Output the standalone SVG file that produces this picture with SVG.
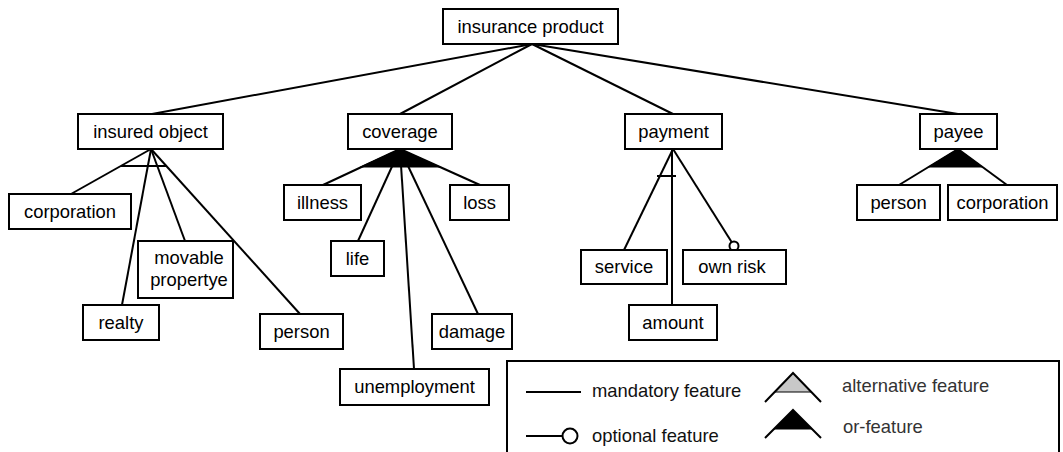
<svg xmlns="http://www.w3.org/2000/svg" width="1063" height="452" viewBox="0 0 1063 452">
  <style>
    .box { fill: #fff; stroke: #000; stroke-width: 2; }
    .lbl { font-family: "Liberation Sans", Arial, sans-serif; font-size: 18.4px; fill: #000; text-anchor: middle; }
    .lgd { font-family: "Liberation Sans", Arial, sans-serif; font-size: 18.4px; fill: #111; }
    .lgd2 { font-family: "Liberation Sans", Arial, sans-serif; font-size: 18.4px; fill: #333; }
    .edge { stroke: #000; stroke-width: 2; fill: none; }
    .or { fill: #000; stroke: #000; stroke-width: 1; }
    .alt { fill: #c8c8c8; stroke: #000; stroke-width: 1; }
  </style>
  <rect width="1063" height="452" fill="#fff"/>

  <!-- connectors -->
  <g id="connectors">
    <!-- root to first level -->
    <line class="edge" x1="532" y1="44" x2="152" y2="114"/>
    <line class="edge" x1="532" y1="44" x2="400" y2="114"/>
    <line class="edge" x1="532" y1="44" x2="673" y2="114"/>
    <line class="edge" x1="532" y1="44" x2="958" y2="114"/>
    <!-- insured object -->
    <line class="edge" x1="151" y1="149" x2="71" y2="194"/>
    <line class="edge" x1="151" y1="149" x2="122" y2="305"/>
    <line class="edge" x1="151" y1="149" x2="185" y2="241"/>
    <line class="edge" x1="151" y1="149" x2="300" y2="314"/>
    <line class="edge" x1="121" y1="166" x2="167" y2="166"/>
    <!-- coverage (or-group) -->
    <polygon class="or" points="400,149 360.5,167 440,167"/>
    <line class="edge" x1="400" y1="149" x2="323" y2="185"/>
    <line class="edge" x1="400" y1="149" x2="480" y2="185"/>
    <line class="edge" x1="400" y1="149" x2="358" y2="241"/>
    <line class="edge" x1="400" y1="149" x2="414" y2="369"/>
    <line class="edge" x1="400" y1="149" x2="478" y2="314"/>
    <!-- payment -->
    <line class="edge" x1="673" y1="149" x2="624" y2="250"/>
    <line class="edge" x1="672" y1="149" x2="672" y2="305"/>
    <line class="edge" x1="673" y1="149" x2="731.6" y2="242"/>
    <circle cx="734" cy="246" r="4.5" fill="#fff" stroke="#000" stroke-width="2"/>
    <line class="edge" x1="657" y1="176" x2="676" y2="176"/>
    <!-- payee (or-group) -->
    <polygon class="or" points="958,149 928.5,167 982.5,167"/>
    <line class="edge" x1="958" y1="149" x2="899" y2="185"/>
    <line class="edge" x1="958" y1="149" x2="1007" y2="185"/>
  </g>

  <g id="insurance-product"><rect class="box" x="443" y="9" width="175" height="35"/><text class="lbl" x="530.5" y="32.5">insurance product</text></g>

  <g id="insured-object"><rect class="box" x="78" y="114" width="145" height="35"/><text class="lbl" x="150.5" y="137.5">insured object</text></g>
  <g id="coverage"><rect class="box" x="348" y="114" width="104" height="35"/><text class="lbl" x="400" y="137.5">coverage</text></g>
  <g id="payment"><rect class="box" x="625" y="114" width="97" height="35"/><text class="lbl" x="673.5" y="137.5">payment</text></g>
  <g id="payee"><rect class="box" x="920" y="114" width="77" height="35"/><text class="lbl" x="958.5" y="137.5">payee</text></g>

  <g id="corporation-1"><rect class="box" x="9" y="194" width="122" height="35"/><text class="lbl" x="70" y="217.5">corporation</text></g>
  <g id="realty"><rect class="box" x="83" y="305" width="76" height="35"/><text class="lbl" x="121" y="328.5">realty</text></g>
  <g id="movable-propertye"><rect class="box" x="138" y="241" width="95" height="57"/><text class="lbl" x="189" y="264">movable</text><text class="lbl" x="189" y="286">propertye</text></g>
  <g id="person-1"><rect class="box" x="260" y="314" width="83" height="35"/><text class="lbl" x="301.5" y="337.5">person</text></g>

  <g id="illness"><rect class="box" x="284" y="185" width="77" height="35"/><text class="lbl" x="322.5" y="208.5">illness</text></g>
  <g id="life"><rect class="box" x="331" y="241" width="53" height="35"/><text class="lbl" x="357.5" y="264.5">life</text></g>
  <g id="loss"><rect class="box" x="450" y="185" width="59" height="35"/><text class="lbl" x="479.5" y="208.5">loss</text></g>
  <g id="damage"><rect class="box" x="432" y="314" width="80" height="35"/><text class="lbl" x="472" y="337.5">damage</text></g>
  <g id="unemployment"><rect class="box" x="340" y="369" width="149" height="36"/><text class="lbl" x="414.5" y="393">unemployment</text></g>

  <g id="service"><rect class="box" x="581" y="250" width="86" height="34"/><text class="lbl" x="624" y="273">service</text></g>
  <g id="own-risk"><rect class="box" x="683" y="250" width="103" height="34"/><text class="lbl" x="732" y="273">own risk</text></g>
  <g id="amount"><rect class="box" x="629" y="305" width="88" height="35"/><text class="lbl" x="673" y="328.5">amount</text></g>

  <g id="person-2"><rect class="box" x="857" y="185" width="83" height="35"/><text class="lbl" x="898.5" y="208.5">person</text></g>
  <g id="corporation-2"><rect class="box" x="948" y="185" width="109" height="35"/><text class="lbl" x="1002.5" y="208.5">corporation</text></g>

  <!-- legend -->
  <g id="legend">
    <rect class="box" x="507" y="361" width="552" height="100"/>
    <line class="edge" x1="526" y1="392" x2="581" y2="392"/>
    <text class="lgd" x="592" y="397">mandatory feature</text>
    <line class="edge" x1="526" y1="436" x2="562" y2="436"/>
    <circle cx="570" cy="436" r="7.5" fill="#fff" stroke="#000" stroke-width="2"/>
    <text class="lgd" x="592" y="442">optional feature</text>
    <polygon class="alt" points="793,373 774.7,392 811.3,392"/>
    <polyline class="edge" points="765,402 793,373 821,402"/>
    <text class="lgd2" x="842" y="392">alternative feature</text>
    <polygon class="or" points="793,410 774,429 812,429"/>
    <polyline class="edge" points="765,438 793,410 821,438"/>
    <text class="lgd2" x="843" y="433">or-feature</text>
  </g>
</svg>
